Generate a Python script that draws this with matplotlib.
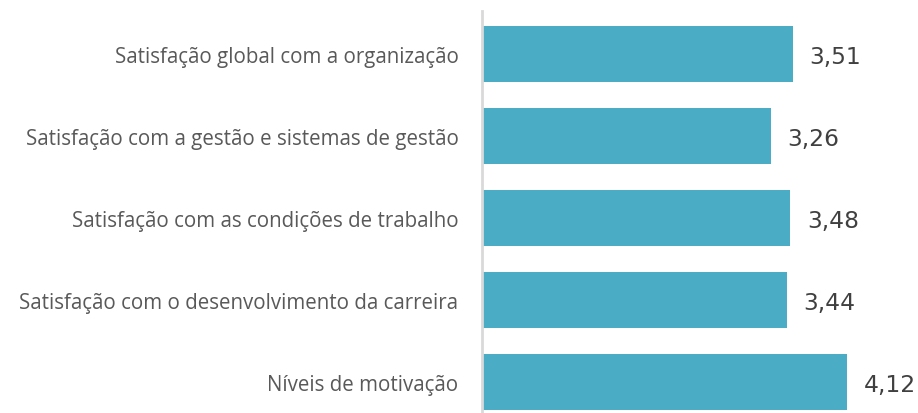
import matplotlib
matplotlib.use("Agg")
import matplotlib.pyplot as plt

categories = [
    "Satisfação global com a organização",
    "Satisfação com a gestão e sistemas de gestão",
    "Satisfação com as condições de trabalho",
    "Satisfação com o desenvolvimento da carreira",
    "Níveis de motivação",
]
values = [3.51, 3.26, 3.48, 3.44, 4.12]
value_labels = ["3,51", "3,26", "3,48", "3,44", "4,12"]

W, H = 918, 414
fig = plt.figure(figsize=(W / 100, H / 100), dpi=100)
ax = fig.add_axes([482 / W, 0, 436 / W, (H - 12) / H])

pos = list(range(len(categories)))
bars = ax.barh(pos, values, height=0.69, color="#4BACC6")
ax.set_xlim(0, 4.92)
ax.set_ylim(4.378, -0.524)

ax.set_yticks(pos)
ax.set_yticklabels(categories, fontsize=14.8, color="#595959", family="Open Sans")
ax.tick_params(axis="y", length=0, pad=17)
ax.set_xticks([])

for s in ["top", "right", "bottom"]:
    ax.spines[s].set_visible(False)
ax.spines["left"].set_color("#D9D9D9")
ax.spines["left"].set_linewidth(2)

for b, lab in zip(bars, value_labels):
    ax.annotate(lab, xy=(b.get_width(), b.get_y() + b.get_height() / 2),
                xytext=(12, -1.5), textcoords="offset points",
                ha="left", va="center", fontsize=16.8, color="#404040",
                family="DejaVu Sans")

fig.savefig("out.png", dpi=100)
